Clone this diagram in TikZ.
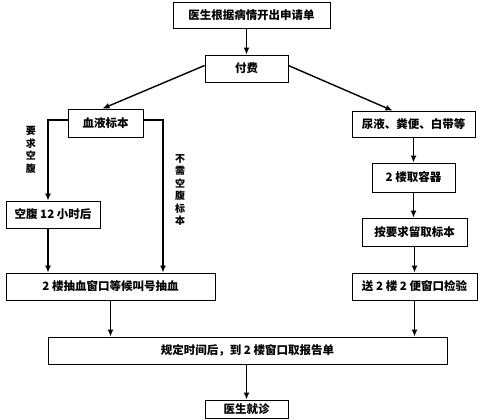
\documentclass[tikz,border=0pt]{standalone}
\usepackage{fontspec}
\newfontfamily\cjk{Noto Sans CJK SC}
\usepackage{tikz}
\usetikzlibrary{arrows.meta}
\usetikzlibrary{calc}
\usetikzlibrary{positioning}

\tikzset{
  box/.style={draw, line width=0.8pt, inner sep=0pt, minimum height=27pt, font=\cjk\bfseries\fontsize{11.5}{13}\selectfont},
  flow/.style={line width=1.4pt, -{Latex[length=7pt,width=6pt]}},
  side/.style={font=\cjk\bfseries\fontsize{10}{12.5}\selectfont, align=center, inner sep=0pt}
}

\begin{document}
\begin{tikzpicture}[x=1pt, y=-1pt]
      \useasboundingbox (0, 0) rectangle (499, 420);

      \node[box, minimum width=157pt, minimum height=26pt] (apply) at (251.5, 15) {医生根据病情开出申请单};
      \node[box, minimum width=83pt] (pay) at (246.5, 68.5) {付费};

      \node[box, minimum width=75pt, minimum height=28pt] (blood) at (105.5, 123) {血液标本};
      \node[box, minimum width=94pt] (fasting) at (53, 214.5) {空腹 12 小时后};
      \node[box, minimum width=209pt] (drawblood) at (110.5, 286.5) {2 楼抽血窗口等候叫号抽血};

      \node[box, minimum width=123pt, minimum height=26pt] (other) at (413.5, 124) {尿液、粪便、白带等};
      \node[box, minimum width=83pt, minimum height=29pt] (cup) at (413.5, 177.5) {2 楼取容器};
      \node[box, minimum width=105pt, minimum height=28pt] (sample) at (414.5, 232) {按要求留取标本};
      \node[box, minimum width=125pt] (send) at (414.5, 286.5) {送 2 楼 2 便窗口检验};

      \node[box, minimum width=399pt] (report) at (247.5, 350.5) {规定时间后，到 2 楼窗口取报告单};
      \node[box, minimum width=83pt, minimum height=18pt] (doctor) at (246.5, 409) {医生就诊};

      \node[side] (needfast) at (31, 150) {要\\求\\空\\腹};
      \node[side] (nofast) at (180, 190) {不\\需\\空\\腹\\标\\本};

      \draw[flow] (pay.north |- apply.south) -- (pay.north);
      \draw[flow] ([yshift=3pt]pay.west) -- ([xshift=-3pt]blood.north);
      \draw[flow] ([yshift=3pt]pay.east) -- ([xshift=-21pt]other.north);

      \draw[flow] ([yshift=3pt]blood.west) -| ([xshift=-5pt]fasting.north);
      \draw[flow] ([yshift=3pt]blood.east) -| ([xshift=52.5pt]drawblood.north);
      \draw[flow] ([xshift=-5pt]fasting.south) -- ([xshift=-5pt]fasting.south |- drawblood.north);

      \draw[flow] (other.south) -- (cup.north);
      \draw[flow] (cup.south) -- (cup.south |- sample.north);
      \draw[flow] (sample.south) -- (sample.south |- send.north);

      \draw[flow] (drawblood.south) -- (drawblood.south |- report.north);
      \draw[flow] (send.south) -- (send.south |- report.north);
      \draw[flow] (doctor.north |- report.south) -- (doctor.north);

    \end{tikzpicture}
\end{document}
